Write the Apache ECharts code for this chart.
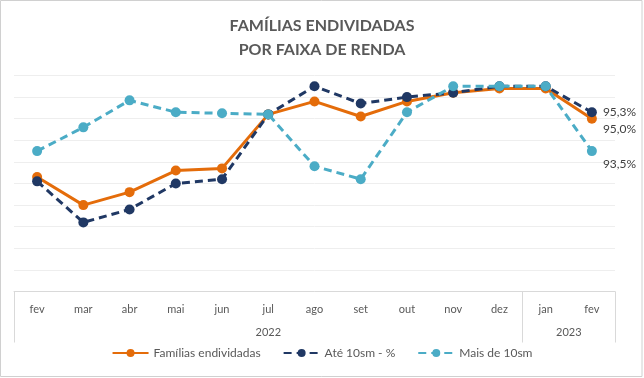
<!DOCTYPE html>
<html>
<head>
<meta charset="utf-8">
<script src="https://cdn.jsdelivr.net/npm/echarts@6/dist/echarts.min.js"></script>
<style>
html,body{margin:0;padding:0;background:#fff;}
#c{width:644px;height:378px;}
</style>
</head>
<body>
<div id="c"></div>
<script>
const months = ['fev','mar','abr','mai','jun','jul','ago','set','out','nov','dez','jan','fev'];
const yearLabels = ['2022','2023'];
const yearSpans = [11, 2];
const familias = [92.3, 91.0, 91.6, 92.6, 92.7, 95.2, 95.8, 95.1, 95.8, 96.2, 96.4, 96.4, 95.0];
const ate10sm  = [92.1, 90.2, 90.8, 92.0, 92.2, 95.2, 96.5, 95.7, 96.0, 96.2, 96.5, 96.5, 95.3];
const mais10sm = [93.5, 94.6, 95.85, 95.3, 95.25, 95.2, 92.8, 92.2, 95.3, 96.5, 96.5, 96.5, 93.5];

// year axis positions
const yearBounds = [0];
yearSpans.forEach(s => yearBounds.push(yearBounds[yearBounds.length-1] + s));
const yearCenters = yearSpans.map((s,i) => yearBounds[i] + s/2);

const fmt = v => v.toFixed(1).replace('.', ',') + '%';

function mk(name, arr, color, type, offsetY, z) {
  return {
    name: name,
    type: 'line',
    xAxisIndex: 0,
    data: arr.map((v,i) => i === arr.length-1 ? {value: v, label: {show: true}} : v),
    symbol: 'circle',
    symbolSize: 10,
    itemStyle: {color: color},
    lineStyle: {color: color, width: 3, type: type},
    label: {
      show: false, position: 'right', distance: 6, offset: [0, offsetY],
      color: '#404040', fontSize: 12, fontFamily: 'Lato',
      formatter: p => fmt(p.value)
    },
    z: z
  };
}

const chart = echarts.init(document.getElementById('c'));
chart.setOption({
  animation: false,
  backgroundColor: '#fff',
  title: {
    text: 'FAMÍLIAS ENDIVIDADAS\nPOR FAIXA DE RENDA',
    left: 'center', top: 9,
    textStyle: {fontFamily: 'Lato', fontWeight: 'bold', fontSize: 16, color: '#595959', lineHeight: 24}
  },
  legend: {
    bottom: 14, left: 'center',
    itemWidth: 36, itemHeight: 10, itemGap: 22,
    textStyle: {fontFamily: 'Lato', fontSize: 12, color: '#595959'},
    data: ['Famílias endividadas', 'Até 10sm - %', 'Mais de 10sm']
  },
  grid: {left: 14, right: 29, top: 75.5, bottom: 86.5},
  xAxis: [
    {
      type: 'category', data: months, boundaryGap: true,
      axisLine: {show: true, lineStyle: {color: '#d9d9d9', width: 1}},
      axisTick: {show: false},
      axisLabel: {color: '#595959', fontSize: 11, fontFamily: 'Lato', margin: 12},
      splitLine: {show: false}
    },
    {
      type: 'value', min: 0, max: months.length, position: 'bottom',
      axisLine: {show: false},
      axisTick: {show: true, customValues: yearBounds, length: 51, lineStyle: {color: '#d9d9d9', width: 1}},
      axisLabel: {
        show: true, customValues: yearCenters, margin: 35,
        color: '#595959', fontSize: 11, fontFamily: 'Lato',
        formatter: v => { const i = yearCenters.indexOf(v); return i >= 0 ? yearLabels[i] : ''; }
      },
      splitLine: {show: false}
    }
  ],
  yAxis: {
    type: 'value', min: 87, max: 97, interval: 1,
    axisLine: {show: false}, axisTick: {show: false}, axisLabel: {show: false},
    splitLine: {lineStyle: {color: '#eeeeee', width: 1}}
  },
  graphic: [{
    type: 'rect', shape: {x: 0.5, y: 0.5, width: 641.5, height: 376},
    style: {fill: 'none', stroke: '#d0d0d0', lineWidth: 1}, silent: true, z: 100
  }],
  series: [
    mk('Famílias endividadas', familias, '#E46C0A', 'solid', 10, 2),
    mk('Até 10sm - %', ate10sm, '#203864', [8, 5], 0, 3),
    mk('Mais de 10sm', mais10sm, '#4BACC6', [8, 5], 13, 4)
  ]
});
</script>
</body>
</html>
